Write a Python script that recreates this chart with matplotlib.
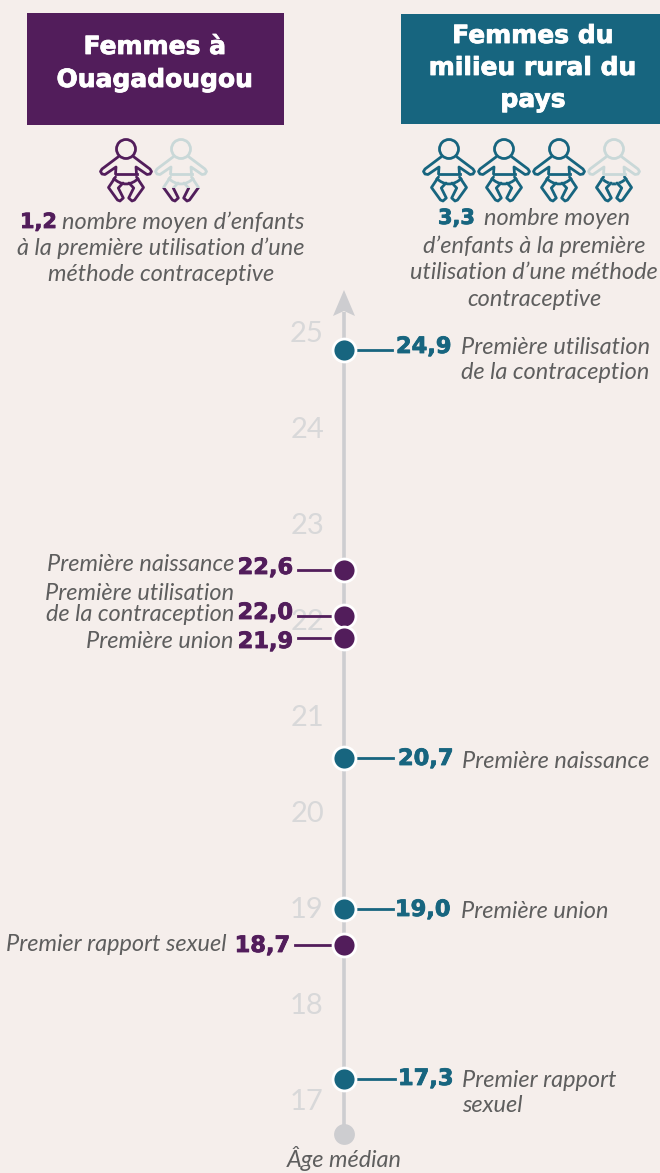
import matplotlib
matplotlib.use('Agg')
import matplotlib.pyplot as plt
import matplotlib.patches as mpatches
import matplotlib.patheffects as pe
from matplotlib.path import Path

BG = '#f5eeeb'
PURPLE = '#521d5b'
TEAL = '#17657f'
GREY = '#cdcdd0'
TICK_GREY = '#d8d8d9'
GHOST = '#c9d8d8'
TEXT = '#5e5e5e'

ticks = [25, 24, 23, 22, 21, 20, 19, 18, 17]

rural_ages = [24.9, 20.65, 19.07, 17.3]
rural_values = ['24,9', '20,7', '19,0', '17,3']
rural_labels = ['Première utilisation\nde la contraception', 'Première naissance',
                'Première union', 'Premier rapport\nsexuel']

ouaga_ages = [22.6, 22.13, 21.9, 18.7]
ouaga_values = ['22,6', '22,0', '21,9', '18,7']
ouaga_labels = ['Première naissance', 'Première utilisation\nde la contraception',
                'Première union', 'Premier rapport sexuel']

ouaga_children = 1.2
rural_children = 3.3

HEAD = ['DejaVu Sans']
BODY = ['Lato', 'DejaVu Sans']
BODY_SIZE = 16.9
AXIS_X = 344


def py(p):
    # image pixel row to age
    return 25 - (p - 340) / 96


fig = plt.figure(figsize=(6.6, 11.73), dpi=100, facecolor=BG)
ax = fig.add_axes([0, 0, 1, 1])
ax.set_xlim(0, 660)
ax.set_ylim(py(1173), py(0))
ax.axis('off')


def baby(cx, cy, color, clip_row=None):
    # cx, cy is the centre of the head, offsets in pixels
    arts = []
    t = lambda pts, s: [(cx + s * x, py(cy + y)) for x, y in pts]
    arm = [(-8, 8), (-24, 20), (-25.5, 22.5), (-24, 25), (-21, 25.5), (-10, 18), (-10.5, 25)]
    leg = [(-10.5, 28), (-17.5, 38.5), (-8.5, 51), (-6, 52), (-2.7, 49), (-7.7, 39), (-3, 34)]
    for s in (-1, 1):
        arts += ax.plot(*zip(*t(arm, s)), color=color, lw=2, solid_joinstyle='round', solid_capstyle='round')
        arts += ax.plot(*zip(*t(leg, s)), color=color, lw=2, solid_joinstyle='round', solid_capstyle='round')
    arts += ax.plot(*zip(*t([(-10.5, 25), (10.5, 25)], 1)), color=color, lw=2)
    d = t([(-13, 29), (0, 41), (13, 29)], 1)
    diaper = mpatches.PathPatch(Path(d, [Path.MOVETO, Path.CURVE3, Path.CURVE3]), fill=False, ec=color, lw=2)
    ax.add_patch(diaper)
    arts.append(diaper)
    # x and y scales differ, so the round head is an ellipse in data units
    head = mpatches.Ellipse((cx, py(cy)), 19, 19 / 96, fill=False, ec=color, lw=2)
    ax.add_patch(head)
    arts.append(head)
    if clip_row is not None:
        clip = mpatches.Rectangle((cx - 40, py(clip_row + 40)), 80, 40 / 96, transform=ax.transData)
        for a in arts:
            a.set_clip_path(clip)


def baby_row(centres, color, n_children, clip_row):
    full = int(n_children)
    for i, cx in enumerate(centres):
        if i < full:
            baby(cx, 149, color)
        else:
            baby(cx, 149, GHOST)
            baby(cx, 149, color, clip_row)


def body(x, row, s, **kw):
    ax.text(x, py(row + 1), s, color=TEXT, fontsize=BODY_SIZE, style='italic', family=BODY, va='center', zorder=5, **kw)


def bold(x, row, s, color, size=16.2, **kw):
    # a thin stroke, the original type is heavier than DejaVu bold
    ax.text(x, py(row + 1), s, color=color, fontsize=size, fontweight='bold', family=HEAD, va='center', zorder=5,
            path_effects=[pe.withStroke(linewidth=0.6, foreground=color)], **kw)


# header boxes
ax.add_patch(mpatches.Rectangle((27, py(125)), 257, 112 / 96, fc=PURPLE, ec='none'))
ax.add_patch(mpatches.Rectangle((401, py(124)), 259, 110 / 96, fc=TEAL, ec='none'))
for s, x, p in [('Femmes à', 155, 46), ('Ouagadougou', 155, 79),
                ('Femmes du', 533, 35), ('milieu rural du', 533, 67), ('pays', 533, 99)]:
    bold(x, p, s, 'white', size=18, ha='center')

baby_row([126, 181], PURPLE, ouaga_children, 188)
baby_row([449, 504, 559, 614], TEAL, rural_children, 176)

# text below the icons
bold(20, 221, '1,2', PURPLE, size=15)
body(62, 221, 'nombre moyen d’enfants')
body(161, 247, 'à la première utilisation d’une', ha='center')
body(161, 273, 'méthode contraceptive', ha='center')
bold(438, 217, '3,3', TEAL, size=15)
body(484, 218, 'nombre moyen')
body(534, 245, 'd’enfants à la première', ha='center')
body(534, 271, 'utilisation d’une méthode', ha='center')
body(534, 298, 'contraceptive', ha='center')

# vertical age axis
for t in ticks:
    ax.annotate(str(t), (307, t), xytext=(0, 4.6), textcoords='offset points', color=TICK_GREY,
                fontsize=21, family=BODY, ha='center', va='center', zorder=1)
ax.plot([AXIS_X, AXIS_X], [py(1134), py(312)], color=GREY, lw=2.6, zorder=2, solid_capstyle='butt')
ax.add_patch(mpatches.Polygon([(AXIS_X, py(290)), (AXIS_X + 11, py(316)), (AXIS_X, py(311)), (AXIS_X - 11, py(316))],
                              fc=GREY, ec='none', zorder=2))
ax.plot([AXIS_X], [py(1134)], 'o', color=GREY, ms=15, mew=0, zorder=2)

# rural, to the right of the axis
num_x = [396, 398, 395, 398]
num_row = [346, 758, 909, 1078]
line_end = [392, 393, 393, 395]
lab_x = [461, 462, 461, 462]
lab_row = [359, 760, 910, 1092]
for i, (age, val, lab) in enumerate(zip(rural_ages, rural_values, rural_labels)):
    ax.plot([AXIS_X, line_end[i]], [age, age], color=TEAL, lw=2, zorder=3)
    ax.plot([AXIS_X], [age], 'o', color=TEAL, ms=16.5, mec='white', mew=2, zorder=4)
    bold(num_x[i], num_row[i], val, TEAL)
    ax.text(lab_x[i], py(lab_row[i] + 1), lab, color=TEXT, fontsize=BODY_SIZE, style='italic', family=BODY,
            va='center', linespacing=1.25, zorder=5)

# Ouagadougou, to the left
num_x = [293, 293, 293, 290]
num_row = [567, 612, 641, 945]
line_start = [298, 298, 298, 295]
lab_x = [234, 234, 234, 227]
lab_row = [564, 603, 641, 944]
for i, (age, val, lab) in enumerate(zip(ouaga_ages, ouaga_values, ouaga_labels)):
    ax.plot([line_start[i], AXIS_X], [age, age], color=PURPLE, lw=2, zorder=3)
    ax.plot([AXIS_X], [age], 'o', color=PURPLE, ms=16.5, mec='white', mew=2, zorder=4)
    bold(num_x[i], num_row[i], val, PURPLE, ha='right')
    ax.text(lab_x[i], py(lab_row[i] + 1), lab, color=TEXT, fontsize=BODY_SIZE, style='italic', family=BODY,
            ha='right', va='center', linespacing=1.0, zorder=5)

body(344, 1158, 'Âge médian', ha='center')

fig.savefig('out.png', dpi=100, facecolor=BG)
